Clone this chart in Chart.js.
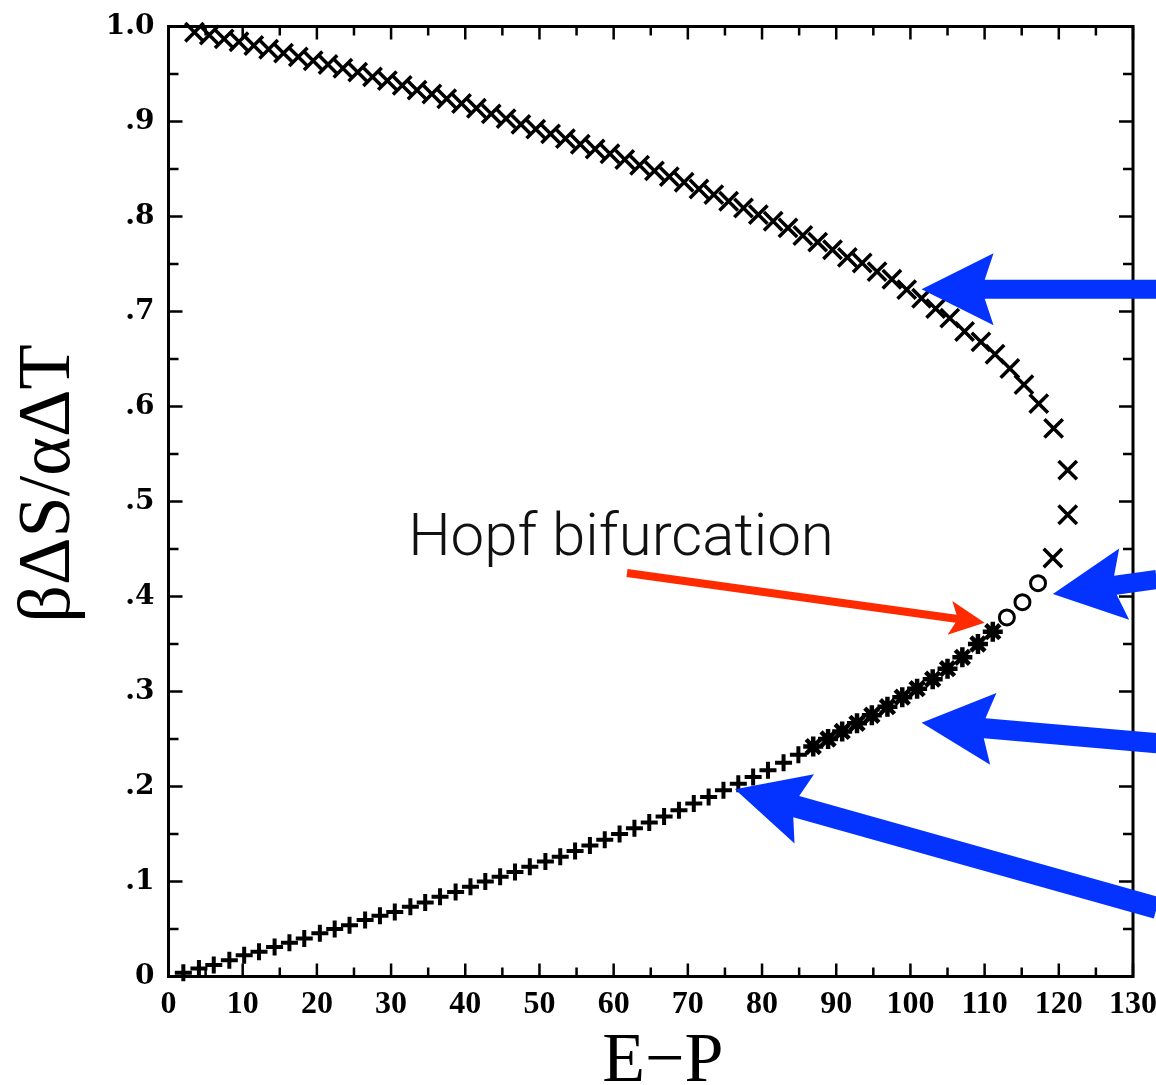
<!DOCTYPE html>
<html>
<head>
<meta charset="utf-8">
<script src="https://cdn.jsdelivr.net/npm/chart.js@4.4.1/dist/chart.umd.min.js"></script>
<style>
  html, body { margin: 0; padding: 0; background: #ffffff; }
  #wrap { width: 1156px; height: 1085px; }
</style>
</head>
<body>
<div id="wrap"><canvas id="chart" width="1156" height="1085"></canvas></div>
<script>
'use strict';

// upper branch, "x" markers (runs round the turning point near E-P = 122)
var UPPER_X = [
  3.5, 5.5, 7.5, 9.5, 11.5, 13.5, 15.5, 17.5, 19.5, 21.5,
  23.5, 25.5, 27.5, 29.5, 31.5, 33.5, 35.5, 37.5, 39.5, 41.5,
  43.5, 45.5, 47.5, 49.5, 51.5, 53.5, 55.5, 57.5, 59.5, 61.5,
  63.5, 65.5, 67.5, 69.5, 71.5, 73.5, 75.5, 77.5, 79.5, 81.5,
  83.5, 85.5, 87.5, 89.5, 91.5, 93.5, 95.5, 97.5, 99.5, 101.5,
  103.4, 105.3, 107.3, 109.5, 111.4, 113.4, 115.3, 117.3, 119.3, 121.2,
  121.2, 119.2
];
var UPPER_Y = [
  0.994, 0.991, 0.987, 0.984, 0.980, 0.976, 0.972, 0.968, 0.964, 0.960,
  0.956, 0.952, 0.947, 0.943, 0.938, 0.933, 0.929, 0.924, 0.919, 0.914,
  0.908, 0.903, 0.897, 0.892, 0.887, 0.882, 0.876, 0.871, 0.866, 0.860,
  0.854, 0.848, 0.842, 0.836, 0.829, 0.823, 0.816, 0.809, 0.802, 0.795,
  0.788, 0.780, 0.773, 0.765, 0.757, 0.751, 0.742, 0.734, 0.723, 0.714,
  0.703, 0.693, 0.679, 0.668, 0.655, 0.640, 0.623, 0.603, 0.577, 0.533,
  0.486, 0.4405
];

// circles between the turning point and the Hopf point
var CIRCLE_X = [113.0, 115.1, 117.2];
var CIRCLE_Y = [0.378, 0.394, 0.414];

// overlapping "+" and "x" markers (drawn as asterisks)
var STAR_X = [86.9, 88.9, 90.8, 92.8, 94.8, 96.9, 98.9, 100.9, 103.0, 105.0, 107.0, 109.1, 111.1];
var STAR_Y = [0.242, 0.250, 0.258, 0.2665, 0.275, 0.284, 0.294, 0.303, 0.313, 0.324, 0.336, 0.350, 0.363];

// lower branch, "+" markers
var LOWER_X = [
  2.0, 4.1, 6.1, 8.2, 10.2, 12.2, 14.3, 16.3, 18.3, 20.4,
  22.4, 24.4, 26.5, 28.5, 30.5, 32.6, 34.6, 36.6, 38.7, 40.7,
  42.7, 44.7, 46.7, 48.7, 50.8, 52.8, 54.8, 56.8, 58.8, 60.8,
  62.8, 64.8, 66.8, 68.8, 70.8, 72.8, 74.8, 76.8, 78.8, 80.8,
  82.9, 84.9
];
var LOWER_Y = [
  0.004, 0.0085, 0.012, 0.017, 0.0225, 0.026, 0.031, 0.0355, 0.040, 0.0455,
  0.050, 0.054, 0.0595, 0.064, 0.068, 0.0735, 0.078, 0.084, 0.089, 0.0945,
  0.100, 0.105, 0.110, 0.1155, 0.121, 0.126, 0.132, 0.138, 0.144, 0.150,
  0.156, 0.162, 0.1685, 0.175, 0.182, 0.189, 0.196, 0.203, 0.210, 0.217,
  0.225, 0.2335
];

var X_TICKS       = [0, 10, 20, 30, 40, 50, 60, 70, 80, 90, 100, 110, 120, 130];
var X_TICK_LABELS = ['0', '10', '20', '30', '40', '50', '60', '70', '80', '90', '100', '110', '120', '130'];
var X_MINOR       = [5, 15, 25, 35, 45, 55, 65, 75, 85, 95, 105, 115, 125];
var Y_TICKS       = [0, 0.1, 0.2, 0.3, 0.4, 0.5, 0.6, 0.7, 0.8, 0.9, 1.0];
var Y_TICK_LABELS = ['0', '.1', '.2', '.3', '.4', '.5', '.6', '.7', '.8', '.9', '1.0'];
var Y_MINOR       = [0.05, 0.15, 0.25, 0.35, 0.45, 0.55, 0.65, 0.75, 0.85, 0.95];

var X_TITLE = 'E\u2212P';
var Y_TITLE = '\u03b2\u0394S/\u03b1\u0394T';

// annotations, in data units
var NOTE_TEXT = 'Hopf bifurcation';
var NOTE_AT   = [32.3, 0.4437];
var RED_ARROW = { tail: [61.8, 0.4247], tip: [110.0, 0.3724] };
var BLUE_ARROWS = [
  { tail: [133.2, 0.7234], tip: [101.5, 0.7234], shaft: 19 },
  { tail: [133.2, 0.4179], tip: [119.2, 0.4026], shaft: 19 },
  { tail: [133.2, 0.2456], tip: [101.5, 0.2672], shaft: 20 },
  { tail: [133.2, 0.0723], tip: [76.35, 0.1970], shaft: 22 },
];

function pairs(xs, ys) {
  return xs.map(function(x, i) { return { x: x, y: ys[i] }; });
}

function drawArrow(ctx, x0, y0, x1, y1, shaft, headLen, headHalf, notch, color) {
  var dx = x1 - x0, dy = y1 - y0;
  var len = Math.sqrt(dx * dx + dy * dy);
  var ux = dx / len, uy = dy / len;
  var nx = -uy, ny = ux;
  var h = shaft / 2;
  // where the concave back edge of the head meets the shaft
  var join = notch + (headLen - notch) * (h / headHalf);
  function P(a, b) { return [x1 - ux * a + nx * b, y1 - uy * a + ny * b]; }
  var pts = [P(0, 0), P(headLen, headHalf), P(join, h), P(len, h),
             P(len, -h), P(join, -h), P(headLen, -headHalf)];
  ctx.beginPath();
  ctx.moveTo(pts[0][0], pts[0][1]);
  for (var i = 1; i < pts.length; i++) ctx.lineTo(pts[i][0], pts[i][1]);
  ctx.closePath();
  ctx.fillStyle = color;
  ctx.fill();
}

var framePlugin = {
  id: 'frame',
  beforeDatasetsDraw: function(chart) {
    var ctx = chart.ctx, a = chart.chartArea;
    var xs = chart.scales.x, ys = chart.scales.y;
    ctx.save();
    ctx.strokeStyle = '#000';
    ctx.lineWidth = 2.5;
    ctx.beginPath();
    function xTick(v, l) {
      var p = xs.getPixelForValue(v);
      ctx.moveTo(p, a.bottom); ctx.lineTo(p, a.bottom - l);
      ctx.moveTo(p, a.top);    ctx.lineTo(p, a.top + l);
    }
    function yTick(v, l) {
      var p = ys.getPixelForValue(v);
      ctx.moveTo(a.left, p);  ctx.lineTo(a.left + l, p);
      ctx.moveTo(a.right, p); ctx.lineTo(a.right - l, p);
    }
    X_TICKS.forEach(function(v) { xTick(v, 13); });
    X_MINOR.forEach(function(v) { xTick(v, 9); });
    Y_TICKS.forEach(function(v) { yTick(v, 14); });
    Y_MINOR.forEach(function(v) { yTick(v, 10); });
    ctx.stroke();
    ctx.lineWidth = 3;
    ctx.strokeRect(a.left, a.top, a.right - a.left, a.bottom - a.top);

    // axis titles, placed against the plot frame
    ctx.fillStyle = '#000';
    ctx.font = '70px "Liberation Serif", serif';
    ctx.textAlign = 'center';
    ctx.textBaseline = 'alphabetic';
    ctx.fillText(X_TITLE, (a.left + a.right) / 2 + 12, a.bottom + 104);
    ctx.save();
    ctx.translate(a.left - 100, (a.top + a.bottom) / 2 - 18);
    ctx.rotate(-Math.PI / 2);
    ctx.font = '74px "Liberation Serif", serif';
    ctx.fillText(Y_TITLE, 0, 0);
    ctx.restore();
    ctx.restore();
  }
};

var notePlugin = {
  id: 'notes',
  afterDraw: function(chart) {
    var ctx = chart.ctx;
    var xs = chart.scales.x, ys = chart.scales.y;
    function px(p) { return [xs.getPixelForValue(p[0]), ys.getPixelForValue(p[1])]; }
    ctx.save();
    var t = px(NOTE_AT);
    ctx.font = '300 60px Roboto, "Open Sans", sans-serif';
    ctx.fillStyle = '#111';
    ctx.textAlign = 'left';
    ctx.textBaseline = 'alphabetic';
    ctx.fillText(NOTE_TEXT, t[0], t[1]);

    var r0 = px(RED_ARROW.tail), r1 = px(RED_ARROW.tip);
    drawArrow(ctx, r0[0], r0[1], r1[0], r1[1], 8, 35, 17, 27, '#ff2a00');

    BLUE_ARROWS.forEach(function(b) {
      var p0 = px(b.tail), p1 = px(b.tip);
      drawArrow(ctx, p0[0], p0[1], p1[0], p1[1], b.shaft, 72, 36, 60, '#0433ff');
    });
    ctx.restore();
  }
};

var ctx = document.getElementById('chart').getContext('2d');

new Chart(ctx, {
  type: 'scatter',
  data: {
    datasets: [
      {
        data: pairs(UPPER_X, UPPER_Y),
        pointStyle: 'crossRot', pointRadius: 13,
        pointBorderColor: '#000', pointBackgroundColor: '#000', pointBorderWidth: 3.5,
        clip: false,
      },
      {
        data: pairs(CIRCLE_X, CIRCLE_Y),
        pointStyle: 'circle', pointRadius: 7.5,
        pointBorderColor: '#000', pointBackgroundColor: '#fff', pointBorderWidth: 3,
        clip: false,
      },
      {
        data: pairs(STAR_X, STAR_Y),
        pointStyle: 'star', pointRadius: 10,
        pointBorderColor: '#000', pointBackgroundColor: '#000', pointBorderWidth: 4.5,
        clip: false,
      },
      {
        data: pairs(LOWER_X, LOWER_Y),
        pointStyle: 'cross', pointRadius: 8.5,
        pointBorderColor: '#000', pointBackgroundColor: '#000', pointBorderWidth: 4,
        clip: false,
      },
    ],
  },
  options: {
    responsive: false,
    animation: false,
    events: [],
    layout: { padding: { left: 0, right: 23, top: 26.5, bottom: 0 } },
    plugins: {
      legend:  { display: false },
      tooltip: { enabled: false },
    },
    scales: {
      x: {
        type: 'linear', min: 0, max: 130,
        grid:   { display: false },
        border: { display: false },
        afterBuildTicks: function(s) { s.ticks = X_TICKS.map(function(v) { return { value: v }; }); },
        afterFit: function(s) { s.height = 108.5; s.paddingLeft = 0; s.paddingRight = 0; },
        ticks: {
          autoSkip: false, maxRotation: 0, padding: 1, color: '#000',
          font: { family: '"Liberation Serif", serif', weight: 'bold', size: 32 },
          callback: function(v, i) { return X_TICK_LABELS[i]; },
        },
      },
      y: {
        type: 'linear', min: 0, max: 1,
        grid:   { display: false },
        border: { display: false },
        afterBuildTicks: function(s) { s.ticks = Y_TICKS.map(function(v) { return { value: v }; }); },
        afterFit: function(s) { s.width = 168.5; s.paddingTop = 0; s.paddingBottom = 0; },
        ticks: {
          autoSkip: false, padding: 6, color: '#000',
          font: { family: '"DejaVu Serif", serif', weight: 'bold', size: 28 },
          callback: function(v, i) { return Y_TICK_LABELS[i]; },
        },
      },
    },
  },
  plugins: [framePlugin, notePlugin],
});
</script>
</body>
</html>
